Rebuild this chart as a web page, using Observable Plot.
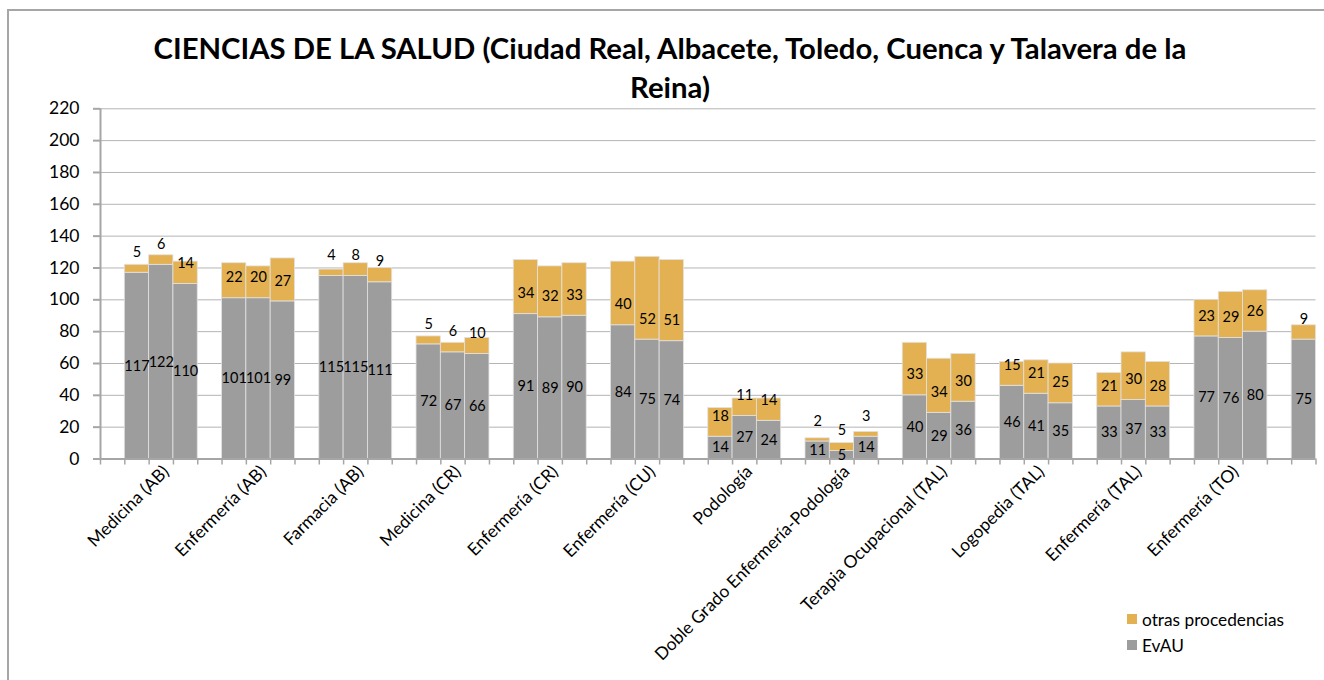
<!DOCTYPE html>
<html><head><meta charset="utf-8">
<script src="https://cdn.jsdelivr.net/npm/d3@7"></script>
<script src="https://cdn.jsdelivr.net/npm/@observablehq/plot@0.6"></script>
<style>
html,body{margin:0;padding:0;background:#fff;overflow:hidden;}
#wrap{position:relative;width:1324px;height:680px;font-family:Lato,sans-serif;overflow:hidden;}
#frame{position:absolute;left:7px;top:9px;width:1400px;height:800px;border-left:2px solid #a6a6a6;border-top:2px solid #a6a6a6;}
#chart{position:absolute;left:0;top:0;}
#title{position:absolute;left:0;width:1340px;top:28px;text-align:center;font-weight:bold;font-size:29.3px;line-height:39px;color:#000;}
#legend{position:absolute;left:1127px;top:606px;font-size:17.3px;color:#000;}
.item{display:flex;align-items:center;height:26px;}
.sw{width:10px;height:10px;margin-right:5px;}
</style></head><body>
<div id="wrap"><div id="frame"></div><div id="chart"></div><div id="title"></div><div id="legend"></div></div>
<script>
const titleLines = ["CIENCIAS DE LA SALUD (Ciudad Real, Albacete, Toledo, Cuenca y Talavera de la", "Reina)"];
const categories = ["Medicina (AB)", "Enfermería (AB)", "Farmacia (AB)", "Medicina (CR)", "Enfermería (CR)", "Enfermería (CU)", "Podología", "Doble Grado Enfermería-Podología", "Terapia Ocupacional (TAL)", "Logopedia (TAL)", "Enfermería (TAL)", "Enfermería (TO)", ""];
const evau = [[117,122,110],[101,101,99],[115,115,111],[72,67,66],[91,89,90],[84,75,74],[14,27,24],[11,5,14],[40,29,36],[46,41,35],[33,37,33],[77,76,80],[75]];
const otras = [[5,6,14],[22,20,27],[4,8,9],[5,6,10],[34,32,33],[40,52,51],[18,11,14],[2,5,3],[33,34,30],[15,21,25],[21,30,28],[23,29,26],[9]];
const seriesNames = ["otras procedencias", "EvAU"];
const seriesColors = ["#e3b152", "#9d9d9d"];
const yTicks = [0,20,40,60,80,100,120,140,160,180,200,220];

const slotsPerGroup = 4;
const slotCount = 50;
const rows = [];
categories.forEach((c, g) => {
  evau[g].forEach((v, b) => {
    rows.push({cat: c, g, b, slot: slotsPerGroup * g + 1 + b, evau: v, otras: otras[g][b]});
  });
});
const long = rows.flatMap(r => [
  {slot: r.slot, series: "EvAU", value: r.evau},
  {slot: r.slot, series: "otras procedencias", value: r.otras}
]);
const labelCats = categories.map((c, g) => ({c, pos: slotsPerGroup * g + 2.5})).filter(d => d.c);
const gray = "#a6a6a6";

const chart = Plot.plot({
  width: 1324, height: 680,
  marginLeft: 100, marginRight: 8.5, marginTop: 108.3, marginBottom: 221.5,
  style: {fontFamily: "Lato, sans-serif", fontSize: "14px", color: "#000", background: "transparent"},
  x: {type: "linear", domain: [0, slotCount], axis: null},
  y: {domain: [0, 220], axis: null},
  color: {domain: seriesNames, range: seriesColors},
  marks: [
    Plot.gridY(yTicks.filter(t => t > 0), {stroke: "#b4b4b4", strokeOpacity: 1, strokeWidth: 1}),
    Plot.rectY(long, {x1: "slot", x2: d => d.slot + 1, y: "value", fill: "series", order: ["EvAU", "otras procedencias"], stroke: "#e2e2e2", strokeWidth: 0.8}),
    Plot.ruleX([0], {stroke: gray, strokeWidth: 2}),
    Plot.ruleY([0], {stroke: gray, strokeWidth: 2}),
    Plot.axisY({ticks: yTicks, label: null, tickSize: 7, tickPadding: 14, fontSize: 17.5, stroke: gray, strokeWidth: 2, strokeOpacity: 1, tickFormat: d => String(d)}),
    Plot.axisX({ticks: d3.range(0, slotCount + 1), label: null, tickSize: 6, tickFormat: () => "", stroke: gray, strokeWidth: 1.5, strokeOpacity: 1}),
    Plot.text(rows, {x: d => d.slot + 0.5, y: d => d.evau / 2, text: d => String(d.evau), fontSize: 14.5, fill: "#000", lineAnchor: "middle"}),
    Plot.text(rows, {x: d => d.slot + 0.5, y: d => d.evau, text: d => String(d.otras), fontSize: 14.5, fill: "#000", lineAnchor: "middle", dy: -20.5}),
    Plot.text(labelCats, {x: "pos", frameAnchor: "bottom", text: "c", rotate: -45, textAnchor: "end", lineAnchor: "top", dx: 0, dy: 5, fontSize: 17.4, fill: "#000"})
  ]
});
document.getElementById("chart").appendChild(chart);

const title = document.getElementById("title");
titleLines.forEach(t => { const d = document.createElement("div"); d.textContent = t; title.appendChild(d); });

const legend = document.getElementById("legend");
seriesNames.forEach((s, i) => {
  const it = document.createElement("div"); it.className = "item";
  const sw = document.createElement("span"); sw.className = "sw"; sw.style.background = seriesColors[i];
  const tx = document.createElement("span"); tx.textContent = s;
  it.appendChild(sw); it.appendChild(tx); legend.appendChild(it);
});
</script>
</body></html>
